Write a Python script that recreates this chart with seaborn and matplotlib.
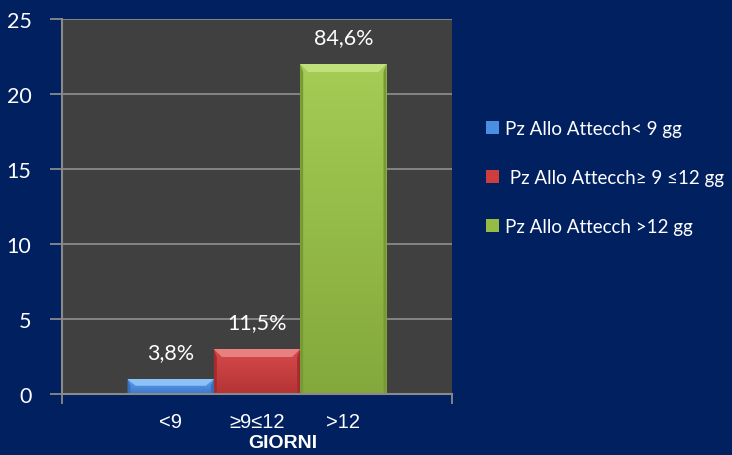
import matplotlib
matplotlib.use("Agg")
import matplotlib.pyplot as plt
import matplotlib.colors as mcolors
from matplotlib.patches import Polygon, Patch
import numpy as np
import pandas as pd
import seaborn as sns

# ---- data ----
category = [""]
series = ["Pz Allo Attecch< 9 gg", " Pz Allo Attecch\u2265 9 \u226412 gg", "Pz Allo Attecch >12 gg"]
values = [1, 3, 22]
bar_labels = ["3,8%", "11,5%", "84,6%"]
tick_labels = ["<9", "\u22659\u226412", ">12"]
y_ticks = [0, 5, 10, 15, 20, 25]
x_title = "GIORNI"

colors = ["#4A8FE2", "#CD3E3F", "#95BD45"]
bottoms = ["#3C7ACB", "#B53335", "#84A83C"]
tops = ["#5E9FEC", "#D64B4C", "#A5CC54"]
bevels = ["#8DC2F6", "#E88080", "#C0E07C"]
sides = ["#3470BE", "#A42C2E", "#789A35"]
NAVY = "#002060"
PLOT_BG = "#404040"
GRID = "#8A8A8A"

df = pd.DataFrame({"cat": category * len(series), "series": series, "value": values})

sns.set_theme(style="dark")
plt.rcParams["font.family"] = ["Lato", "DejaVu Sans"]

fig = plt.figure(figsize=(7.32, 4.56), dpi=100, facecolor=NAVY)
ax = fig.add_axes([62 / 732, 61 / 456, 390 / 732, 375 / 456])
ax.set_facecolor(PLOT_BG)

sns.barplot(data=df, x="cat", y="value", hue="series", hue_order=series,
            palette=colors, width=0.664, ax=ax, legend=False,
            edgecolor="none", linewidth=0, saturation=1)

ax.set_xlim(-0.5, 0.5)
ax.set_ylim(0, 25)
ax.set_yticks(y_ticks)
ax.grid(axis="y", color=GRID, linewidth=1.3, zorder=0)
ax.grid(axis="x", visible=False)
ax.set_axisbelow(True)

for s in ["top", "right"]:
    ax.spines[s].set_visible(False)
for s in ["left", "bottom"]:
    ax.spines[s].set_visible(True)
    ax.spines[s].set_color(GRID)
    ax.spines[s].set_linewidth(1.5)

ax.tick_params(axis="y", which="both", left=True, length=9, width=1.3, color=GRID,
               labelcolor="white", labelsize=15.5, pad=13)
ax.set_ylabel("")

# x: boundary tick marks (no labels) + labels at bar centres
patches = [c.patches[0] for c in ax.containers]
centers = [p.get_x() + p.get_width() / 2 for p in patches]
ax.set_xticks([-0.5, 0.5])
ax.set_xticklabels(["", ""])
ax.tick_params(axis="x", which="major", bottom=True, length=7, width=1.3, color=GRID)
ax.set_xticks(centers, minor=True)
ax.set_xticklabels(tick_labels, minor=True, fontfamily="Liberation Sans")
ax.tick_params(axis="x", which="minor", bottom=False, length=0, labelcolor="white",
               labelsize=14.5, pad=13)
ax.set_xlabel(x_title, color="white", fontsize=14, fontweight="bold",
              fontfamily="Liberation Sans")
ax.xaxis.set_label_coords((283 - 62) / 390, -0.130)
ax.xaxis.label.set_va("center")

# bevel / gradient styling derived from bar geometry
fig.canvas.draw()
inv = ax.transData.inverted()
p0 = inv.transform((0, 0))
p1 = inv.transform((1, 1))
dxpx, dypx = p1[0] - p0[0], p1[1] - p0[1]
for p, bot, top, bev_c, side_c in zip(patches, bottoms, tops, bevels, sides):
    x0, w, h = p.get_x(), p.get_width(), p.get_height()
    z = p.get_zorder()
    grad = np.linspace(0, 1, 256).reshape(-1, 1)
    cmap = mcolors.LinearSegmentedColormap.from_list("g", [mcolors.to_rgb(bot),
                                                          mcolors.to_rgb(top)])
    im = ax.imshow(grad, extent=(x0, x0 + w, 0, h), origin="lower", aspect="auto",
                   cmap=cmap, zorder=z + 0.1)
    im.set_clip_path(p)
    b = min(8 * dypx, h * 0.45)
    bx = 8 * dxpx
    sx = 3 * dxpx
    # side strips
    ax.add_patch(Polygon([(x0, 0), (x0 + sx, 0), (x0 + sx, h - b), (x0, h)],
                         closed=True, facecolor=side_c, edgecolor="none", zorder=z + 0.15))
    ax.add_patch(Polygon([(x0 + w, 0), (x0 + w - sx, 0), (x0 + w - sx, h - b), (x0 + w, h)],
                         closed=True, facecolor=side_c, edgecolor="none", zorder=z + 0.15))
    # top bevel
    ax.add_patch(Polygon([(x0, h), (x0 + w, h), (x0 + w - bx, h - b), (x0 + bx, h - b)],
                         closed=True, facecolor=bev_c, edgecolor="none", zorder=z + 0.2))
    ax.set_xlim(-0.5, 0.5)
    ax.set_ylim(0, 25)

for cont, lab in zip(ax.containers, bar_labels):
    ax.bar_label(cont, labels=[lab], padding=12, color="white", fontsize=15.5)

handles = [Patch(facecolor=c, edgecolor="none") for c in colors]
leg = fig.legend(handles, series, loc="upper left", bbox_to_anchor=(486 / 732, 1 - 121 / 456),
                 frameon=False, fontsize=13.5, labelcolor="white",
                 handlelength=0.7, handleheight=0.7, handletextpad=0.3,
                 labelspacing=1.7, borderaxespad=0, borderpad=0)

fig.savefig("out.png", dpi=100, facecolor=NAVY)
